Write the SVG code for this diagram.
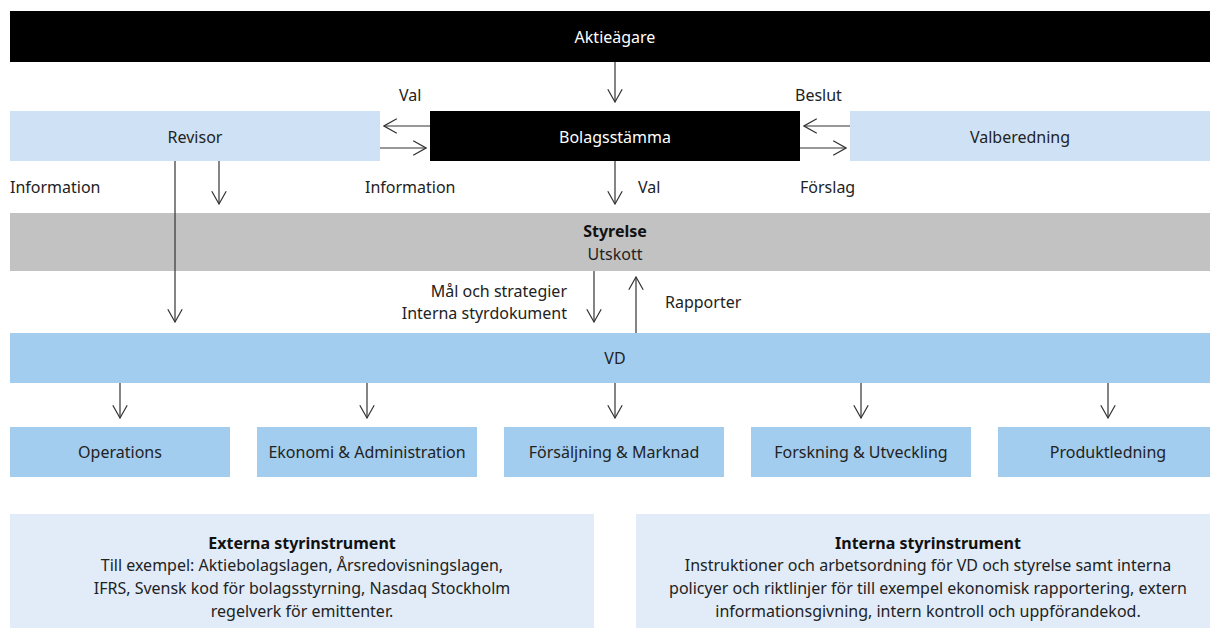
<svg xmlns="http://www.w3.org/2000/svg" width="1210" height="628" viewBox="0 0 1210 628">
<style>
text{font-family:"Noto Sans","Open Sans","Liberation Sans",sans-serif;font-size:16px;fill:#222}
.w{fill:#fff}
.b{font-weight:bold;fill:#111}
.c{text-anchor:middle}
.r{text-anchor:end}
.dark{fill:#000}
.light{fill:#cfe2f5}
.gray{fill:#c2c2c2}
.mid{fill:#a3cdee}
.pale{fill:#e1ecf8}
.ln{stroke:#333;stroke-width:1.2;fill:none;marker-end:url(#ah)}
</style>
<defs>
<marker id="ah" viewBox="0 0 20 20" refX="19" refY="10" markerWidth="16" markerHeight="16" markerUnits="userSpaceOnUse" orient="auto">
<path d="M3,1 L19,10 L3,19" fill="none" stroke="#333" stroke-width="1.5"/>
</marker>
</defs>
<rect width="1210" height="628" fill="#fff"/>
<g id="aktieagare"><rect class="dark" x="10" y="11" width="1200" height="51"/><text class="w c" x="615" y="43">Aktieägare</text></g>
<g id="revisor"><rect class="light" x="10" y="111" width="370" height="50"/><text class="c" x="195" y="143">Revisor</text></g>
<g id="bolagsstamma"><rect class="dark" x="430" y="111" width="370" height="50"/><text class="w c" x="615" y="143">Bolagsstämma</text></g>
<g id="valberedning"><rect class="light" x="850" y="111" width="360" height="50"/><text class="c" x="1020" y="143">Valberedning</text></g>
<g id="styrelse"><rect class="gray" x="10" y="213" width="1200" height="58"/><text class="b c" x="615" y="237">Styrelse</text><text class="c" x="615" y="260">Utskott</text></g>
<g id="vd"><rect class="mid" x="10" y="333" width="1200" height="50"/><text class="c" x="615" y="364">VD</text></g>
<g id="operations"><rect class="mid" x="10" y="427" width="220" height="50"/><text class="c" x="120" y="458">Operations</text></g>
<g id="ekonomi"><rect class="mid" x="257" y="427" width="220" height="50"/><text class="c" x="367" y="458">Ekonomi &amp; Administration</text></g>
<g id="forsaljning"><rect class="mid" x="504" y="427" width="220" height="50"/><text class="c" x="614" y="458">Försäljning &amp; Marknad</text></g>
<g id="forskning"><rect class="mid" x="751" y="427" width="220" height="50"/><text class="c" x="861" y="458">Forskning &amp; Utveckling</text></g>
<g id="produktledning"><rect class="mid" x="998" y="427" width="212" height="50"/><text class="c" x="1108" y="458">Produktledning</text></g>
<g id="externa"><rect class="pale" x="10" y="514" width="584" height="114"/>
<text class="b c" x="302" y="549">Externa styrinstrument</text>
<text class="c" x="302" y="571">Till exempel: Aktiebolagslagen, Årsredovisningslagen,</text>
<text class="c" x="302" y="594">IFRS, Svensk kod för bolagsstyrning, Nasdaq Stockholm</text>
<text class="c" x="302" y="617">regelverk för emittenter.</text></g>
<g id="interna"><rect class="pale" x="636" y="514" width="574" height="114"/>
<text class="b c" x="928" y="549">Interna styrinstrument</text>
<text class="c" x="928" y="571">Instruktioner och arbetsordning för VD och styrelse samt interna</text>
<text class="c" x="928" y="594">policyer och riktlinjer för till exempel ekonomisk rapportering, extern</text>
<text class="c" x="928" y="617">informationsgivning, intern kontroll och uppförandekod.</text></g>
<g id="connectors">
<path class="ln" d="M615,62 V102"/>
<path class="ln" d="M430,126 H384"/>
<path class="ln" d="M380,148 H426"/>
<path class="ln" d="M850,126 H804"/>
<path class="ln" d="M800,148 H846"/>
<path class="ln" d="M175,161 V322"/>
<path class="ln" d="M219,161 V204"/>
<path class="ln" d="M615,161 V204"/>
<path class="ln" d="M594,271 V322"/>
<path class="ln" d="M636,333 V277"/>
<path class="ln" d="M120,383 V418"/>
<path class="ln" d="M367,383 V418"/>
<path class="ln" d="M615,383 V418"/>
<path class="ln" d="M861,383 V418"/>
<path class="ln" d="M1108,383 V418"/>
</g>
<g id="labels">
<text x="399" y="101">Val</text>
<text x="795" y="101">Beslut</text>
<text x="10" y="193">Information</text>
<text x="365" y="193">Information</text>
<text x="638" y="193">Val</text>
<text x="800" y="193">Förslag</text>
<text class="r" x="567" y="297">Mål och strategier</text>
<text class="r" x="567" y="319">Interna styrdokument</text>
<text x="665" y="308">Rapporter</text>
</g>
</svg>
